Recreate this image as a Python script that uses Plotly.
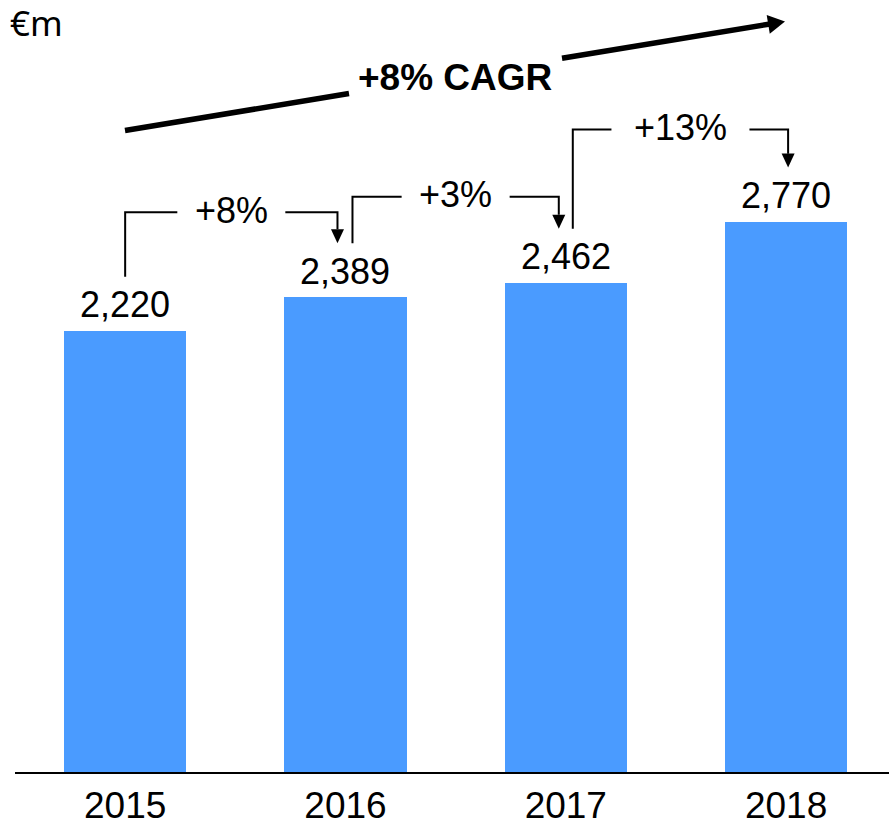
import plotly.graph_objects as go

# Revenue by year (EUR m)
years = ["2015", "2016", "2017", "2018"]
revenue = [2220, 2389, 2462, 2770]
growth_labels = ["+8%", "+3%", "+13%"]
cagr_label = "+8% CAGR"
unit_label = "€m"

# ---- figure geometry -------------------------------------------------------
W, H = 889, 827
M_L, M_R, M_T, M_B = 15, 0, 0, 55
X_RANGE = [-0.5, 3.467]
Y_RANGE = [0, 3885]
PLOT_W = W - M_L - M_R
PLOT_H = H - M_T - M_B
KX = PLOT_W / (X_RANGE[1] - X_RANGE[0])   # px per x unit
KY = PLOT_H / (Y_RANGE[1] - Y_RANGE[0])   # px per y unit

FONT = "Liberation Sans, Arial, Helvetica, sans-serif"
BAR_COLOR = "#4A9BFF"


def dx(px):
    return px / KX


def dy(px):
    return px / KY


def xpx(px):
    """Horizontal page pixel -> x data coordinate."""
    return X_RANGE[0] + (px - M_L) / KX


def ypx(py):
    """Vertical page pixel -> y data coordinate."""
    return Y_RANGE[0] + (M_T + PLOT_H - py) / KY


xs = list(range(len(years)))

fig = go.Figure()
fig.add_trace(go.Bar(
    x=xs, y=revenue, width=0.554,
    marker=dict(color=BAR_COLOR, line=dict(width=0)),
    hoverinfo="skip",
))

shapes = []
annotations = []

# value labels above bars
for i, v in enumerate(revenue):
    annotations.append(dict(
        x=i, y=v, xref="x", yref="y", text=f"{v:,}",
        showarrow=False, yanchor="middle", yshift=26,
        font=dict(family=FONT, size=36, color="black"),
    ))

# year-on-year growth brackets
left_off = [0, 7, 7]        # px offset of the start leg from bar centre
right_off = [-8, -7, 2]     # px offset of the arrow leg from bar centre
rise = [85, 86, 92]         # px from the taller bar to the bracket top
half_gap = [54, 54, 69]     # px half-width of the gap left for the label
LEG_CLEAR = 54              # px between bar top and leg end
HEAD_LEN, HEAD_HALF = 14, 6.5

for i, lab in enumerate(growth_labels):
    x0 = i + dx(left_off[i])
    x1 = i + 1 + dx(right_off[i])
    y0 = revenue[i] + dy(LEG_CLEAR)
    ytip = revenue[i + 1] + dy(LEG_CLEAR)
    ytop = max(revenue[i], revenue[i + 1]) + dy(rise[i])
    xc = (x0 + x1) / 2
    g = dx(half_gap[i])
    path = (f"M {x0},{y0} L {x0},{ytop} L {xc - g},{ytop} "
            f"M {xc + g},{ytop} L {x1},{ytop} L {x1},{ytip + dy(HEAD_LEN) - 0.5}")
    shapes.append(dict(type="path", path=path, xref="x", yref="y",
                       line=dict(color="black", width=2)))
    head = (f"M {x1},{ytip} L {x1 - dx(HEAD_HALF)},{ytip + dy(HEAD_LEN)} "
            f"L {x1 + dx(HEAD_HALF)},{ytip + dy(HEAD_LEN)} Z")
    shapes.append(dict(type="path", path=head, xref="x", yref="y",
                       fillcolor="black", line=dict(width=0)))
    annotations.append(dict(
        x=xc, y=ytop, xref="x", yref="y", text=lab, showarrow=False,
        yanchor="middle", yshift=2,
        font=dict(family=FONT, size=36, color="black"),
    ))

# CAGR arrow (drawn in page pixels, converted to data space)
P0 = (125.0, 130.5)
P1 = (785.0, 21.5)
vx, vy = P1[0] - P0[0], P1[1] - P0[1]
L = (vx ** 2 + vy ** 2) ** 0.5
ux, uy = vx / L, vy / L
nx, ny = -uy, ux


def along(t):
    return (P0[0] + vx * t, P0[1] + vy * t)


def to_data(p):
    return xpx(p[0]), ypx(p[1])


t_gap0 = (349 - P0[0]) / vx
t_gap1 = (562 - P0[0]) / vx
CAGR_HEAD_LEN, CAGR_HEAD_HALF = 17, 9.5
t_end = 1 - (CAGR_HEAD_LEN - 2) / L

for ta, tb in [(0, t_gap0), (t_gap1, t_end)]:
    a = to_data(along(ta))
    b = to_data(along(tb))
    shapes.append(dict(type="line", xref="x", yref="y",
                       x0=a[0], y0=a[1], x1=b[0], y1=b[1],
                       line=dict(color="black", width=5.5)))

base = (P1[0] - ux * CAGR_HEAD_LEN, P1[1] - uy * CAGR_HEAD_LEN)
c1 = to_data((base[0] + nx * CAGR_HEAD_HALF, base[1] + ny * CAGR_HEAD_HALF))
c2 = to_data((base[0] - nx * CAGR_HEAD_HALF, base[1] - ny * CAGR_HEAD_HALF))
tip = to_data(P1)
shapes.append(dict(type="path", xref="x", yref="y",
                   path=f"M {tip[0]},{tip[1]} L {c1[0]},{c1[1]} L {c2[0]},{c2[1]} Z",
                   fillcolor="black", line=dict(width=0)))

cx, cy = to_data((455, 77))
annotations.append(dict(
    x=cx, y=cy, xref="x", yref="y", text=f"<b>{cagr_label}</b>",
    showarrow=False, yanchor="middle",
    font=dict(family=FONT, size=37, color="black"),
))

# unit label, placed in paper space (left of the plot area)
annotations.append(dict(
    x=(8 - M_L) / PLOT_W, y=(M_T + PLOT_H - 23) / PLOT_H,
    xref="paper", yref="paper", text=unit_label, showarrow=False,
    xanchor="left", yanchor="middle",
    font=dict(family="Noto Sans, Open Sans, sans-serif", size=35, color="black"),
))

fig.update_layout(
    width=W, height=H,
    margin=dict(l=M_L, r=M_R, t=M_T, b=M_B, pad=0, autoexpand=False),
    paper_bgcolor="white", plot_bgcolor="white",
    showlegend=False, bargap=0,
    shapes=shapes, annotations=annotations,
    xaxis=dict(
        range=X_RANGE, tickmode="array", tickvals=xs, ticktext=years,
        showgrid=False, zeroline=False, showline=True,
        linecolor="black", linewidth=2, ticks="",
        automargin=False,
        tickfont=dict(family=FONT, size=37, color="black"),
        fixedrange=True,
    ),
    yaxis=dict(
        range=Y_RANGE, visible=False, showgrid=False, zeroline=False,
        automargin=False, fixedrange=True,
    ),
)

fig.write_html("out.html", config={"displayModeBar": False})
